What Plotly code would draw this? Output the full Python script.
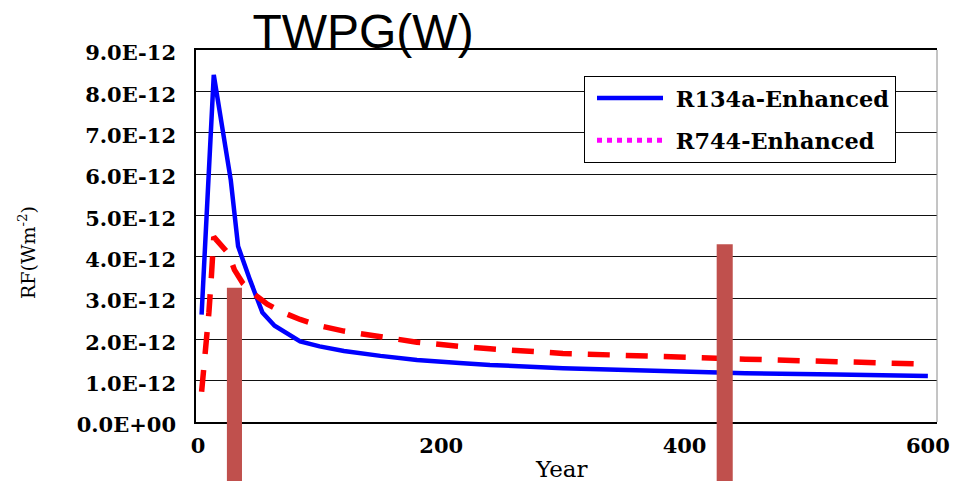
import plotly.graph_objects as go

# Radiative forcing (units of 1E-12 W m^-2) against year
years_r134a = [3, 13, 27, 33, 43, 48, 53, 63, 73, 84, 100, 120, 150, 180, 215, 240, 300, 375, 450, 525, 600]
rf_r134a = [2.6, 8.4, 5.85, 4.25, 3.42, 3.02, 2.65, 2.33, 2.14, 1.95, 1.83, 1.72, 1.60, 1.50, 1.43, 1.38, 1.30, 1.23, 1.18, 1.15, 1.11]

years_r744 = [3, 5, 7, 9, 11, 13, 25, 30, 37, 45, 57, 70, 84, 100, 120, 150, 180, 215, 240, 300, 375, 450, 525, 600]
rf_r744 = [0.73, 1.3, 1.95, 2.65, 3.5, 4.48, 4.08, 3.68, 3.35, 3.12, 2.85, 2.65, 2.48, 2.33, 2.2, 2.06, 1.93, 1.83, 1.77, 1.66, 1.58, 1.52, 1.46, 1.40]

# Marker bars (year, top value in 1E-12 W m^-2, width in years)
bar_years = [30, 433]
bar_tops = [3.25, 4.3]
bar_widths = [12.4, 13.2]
bar_base = -1.6

y_tick_values = [0, 1, 2, 3, 4, 5, 6, 7, 8, 9]
y_tick_labels = ["0.0E+00", "1.0E-12", "2.0E-12", "3.0E-12", "4.0E-12",
                 "5.0E-12", "6.0E-12", "7.0E-12", "8.0E-12", "9.0E-12"]
x_tick_values = [0, 200, 400, 600]

SCALE = 1e-12
Y_MAX = 9

# page geometry (px)
W, H = 954, 481
M_L, M_R, M_T = 196, 17, 50
AXIS_PX = 422                      # pixel row of the value axis baseline
PLOT_H = H - M_T                   # full drawing height (bars run to the bottom edge)
y_dom_low = (H - AXIS_PX) / PLOT_H
bar_axis_low = -Y_MAX * (H - AXIS_PX) / (AXIS_PX - M_T)

serif = "DejaVu Serif"
tick_font = dict(family=serif, size=21, color="black", weight=700)

fig = go.Figure()

fig.add_trace(go.Scatter(
    x=years_r134a, y=[v * SCALE for v in rf_r134a], mode="lines",
    name="\u00a0R134a-Enhanced", legendgroup="a",
    line=dict(color="#0000FF", width=4.5),
))
fig.add_trace(go.Scatter(
    x=years_r744, y=[v * SCALE for v in rf_r744], mode="lines",
    name="R744-Enhanced", showlegend=False,
    line=dict(color="#FF0000", width=5.5, dash="22px,16px"),
))
# legend key for the R744 series
fig.add_trace(go.Scatter(
    x=[None], y=[None], mode="lines", name="\u00a0R744-Enhanced", legendgroup="b",
    line=dict(color="#FF00FF", width=5, dash="5px,5px"),
))
fig.add_trace(go.Bar(
    x=bar_years, y=[(t - bar_base) * SCALE for t in bar_tops], base=bar_base * SCALE,
    width=bar_widths, marker=dict(color="#C0504D", line=dict(width=0)),
    showlegend=False, xaxis="x", yaxis="y2",
))

fig.update_layout(
    width=W, height=H,
    margin=dict(l=M_L, r=M_R, t=M_T, b=0, autoexpand=False),
    paper_bgcolor="white", plot_bgcolor="rgba(0,0,0,0)",
    showlegend=True,
    title=dict(text="TWPG(W)", xref="container", x=363 / W, xanchor="center",
               yref="container", y=1 - 31 / H, yanchor="middle",
               font=dict(family="Liberation Sans, Arial", size=48, color="black")),
    xaxis=dict(range=[-1.6, 607.5], tickvals=x_tick_values, showgrid=False, zeroline=False,
               showline=True, linecolor="black", linewidth=1.5, mirror=True, anchor="y",
               ticks="", tickfont=tick_font, ticklabelstandoff=4, automargin=False),
    yaxis=dict(domain=[y_dom_low, 1], range=[0, Y_MAX * SCALE],
               tickvals=[v * SCALE for v in y_tick_values],
               ticktext=y_tick_labels, showgrid=True, gridcolor="#111111", gridwidth=1.2,
               zeroline=False, showline=True, linecolor="black", linewidth=1.5,
               ticks="", tickfont=tick_font, ticklabelstandoff=14, ticklabelshift=3,
               automargin=False),
    yaxis2=dict(domain=[0, 1], range=[bar_axis_low * SCALE, Y_MAX * SCALE], anchor="x",
                visible=False, showgrid=False, zeroline=False),
    legend=dict(x=(584 - M_L) / (W - M_L - M_R), y=(H - 76) / PLOT_H,
                xanchor="left", yanchor="top",
                bgcolor="white", bordercolor="black", borderwidth=1,
                font=dict(family=serif, size=22.4, color="black", weight=700),
                indentation=7, itemwidth=66, tracegroupgap=10, traceorder="grouped"),
    shapes=[dict(type="line", xref="paper", yref="y domain", x0=1, x1=1, y0=0, y1=1,
                 line=dict(color="#8a8a8a", width=1))],
    annotations=[
        dict(text="RF(Wm<sup>-2</sup>)", xref="paper", yref="paper", x=0, y=(H - 253) / PLOT_H,
             xshift=-169, xanchor="center", yanchor="middle", textangle=-90, showarrow=False,
             font=dict(family=serif, size=19, color="black")),
        dict(text="Year", xref="paper", yref="paper", x=(561 - M_L) / (W - M_L - M_R),
             y=(H - 469) / PLOT_H, xanchor="center", yanchor="middle", showarrow=False,
             font=dict(family=serif, size=23, color="black")),
    ],
)

fig.write_html("out.html")
